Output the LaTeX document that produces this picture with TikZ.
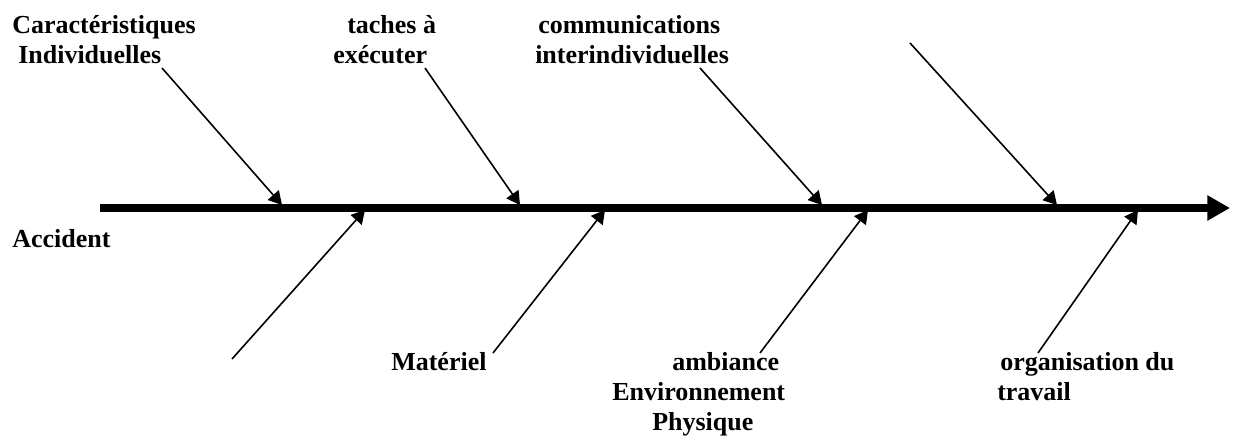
\documentclass[tikz,border=0pt]{standalone}
\usepackage{fontspec}
\setmainfont{Liberation Serif}
\usetikzlibrary{arrows.meta}
\begin{document}
\begin{tikzpicture}[x=0.75pt,y=-0.75pt,
  lbl/.style={font=\bfseries\fontsize{19.5}{22.5}\selectfont, inner sep=0pt, anchor=base west, align=left},
  bone/.style={line width=1.2pt, -{Triangle[length=10pt,width=11pt]}},
  spine/.style={line width=5.8pt, -{Triangle[length=17pt,width=18pt]}}]
\useasboundingbox (0,0) rectangle (1233,437);

% labels (anchored at the baseline of their last line)
\node[lbl] (cara) at (12,63) {Caractéristiques\\\hspace*{4.5pt}Individuelles};
\node[lbl] (taches) at (333,63) {\hspace*{10.5pt}taches à\\exécuter};
\node[lbl] (comm) at (535,63) {\hspace*{2.25pt}communications\\interindividuelles};
\node[lbl] (accident) at (12,247) {Accident};
\node[lbl] (materiel) at (391,370) {Matériel};
\node[lbl] (ambiance) at (612,430) {\hspace*{45pt}ambiance\\Environnement\\\hspace*{30pt}Physique};
\node[lbl] (orga) at (997,400) {\hspace*{2.25pt}organisation du\\travail};

% spine
\coordinate (tail) at (100,208);
\coordinate (head) at (1230,208);
\draw[spine] (tail) -- (head);

% upper bones
\coordinate (u1s) at (162,68);  \coordinate (u1e) at (282,205);
\coordinate (u2s) at (425,68);  \coordinate (u2e) at (520,205);
\coordinate (u3s) at (700,68);  \coordinate (u3e) at (822,205);
\coordinate (u4s) at (910,43);  \coordinate (u4e) at (1057,205);
\draw[bone] (u1s) -- (u1e);
\draw[bone] (u2s) -- (u2e);
\draw[bone] (u3s) -- (u3e);
\draw[bone] (u4s) -- (u4e);

% lower bones
\coordinate (l1s) at (232,359); \coordinate (l1e) at (365,210);
\coordinate (l2s) at (493,353); \coordinate (l2e) at (605,210);
\coordinate (l3s) at (760,353); \coordinate (l3e) at (868,210);
\coordinate (l4s) at (1038,353); \coordinate (l4e) at (1138,210);
\draw[bone] (l1s) -- (l1e);
\draw[bone] (l2s) -- (l2e);
\draw[bone] (l3s) -- (l3e);
\draw[bone] (l4s) -- (l4e);
\end{tikzpicture}
\end{document}
